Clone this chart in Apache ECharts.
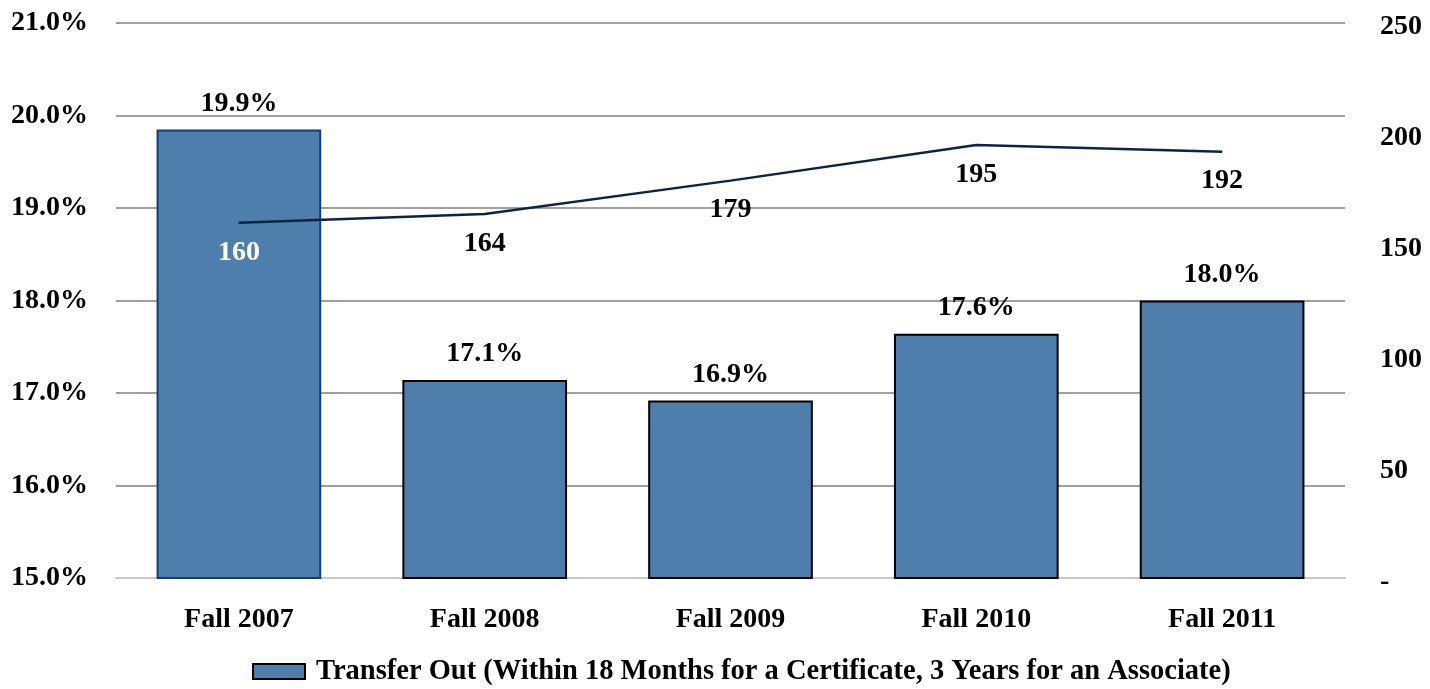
<!DOCTYPE html>
<html>
  <head>
    <meta charset="utf-8" />
    <title>Transfer Out</title>
    <script src="https://cdn.jsdelivr.net/npm/echarts@6/dist/echarts.min.js"></script>
  </head>
  <body style="margin:0">
    <div id="main" style="width: 1430px;height: 689px;"></div>
    <script type="text/javascript">
      var categories = ['Fall 2007', 'Fall 2008', 'Fall 2009', 'Fall 2010', 'Fall 2011']
      var ratePct = [19.85, 17.14, 16.92, 17.64, 18.0]
      var rateLabels = ['19.9%', '17.1%', '16.9%', '17.6%', '18.0%']
      var counts = [160, 164, 179, 195, 192]
      var barBorders = ['#163a78', '#000', '#000', '#000', '#000']
      var countLabelColors = ['#fff', '#000', '#000', '#000', '#000']

      var font = '"Liberation Serif", "Times New Roman", serif'
      var myChart = echarts.init(document.getElementById('main'))

      var option = {
        animation: false,
        textStyle: { fontFamily: font },
        grid: { left: 116, right: 85, top: 23, bottom: 111 },
        legend: {
          data: [{ name: 'Transfer Out (Within 18 Months for a Certificate, 3 Years for an Associate)', icon: 'rect' }],
          bottom: -2,
          left: 247,
          itemWidth: 52,
          itemHeight: 15,
          itemGap: 8,
          textStyle: { fontFamily: font, fontWeight: 'bold', fontSize: 28.5, color: '#000', padding: [0, 0, 0, 6] }
        },
        xAxis: {
          type: 'category',
          data: categories,
          axisTick: { show: false },
          axisLine: { lineStyle: { color: '#c8c8c8', width: 2 } },
          axisLabel: { fontFamily: font, fontWeight: 'bold', fontSize: 28, color: '#000', margin: 28 }
        },
        yAxis: [
          {
            type: 'value',
            min: 15,
            max: 21,
            interval: 1,
            axisLine: { show: false },
            axisTick: { show: false },
            splitLine: { lineStyle: { color: '#a0a0a0', width: 2 } },
            axisLabel: {
              fontFamily: font, fontWeight: 'bold', fontSize: 28, color: '#000', margin: 28,
              formatter: function (v) { return v.toFixed(1) + '%' }
            }
          },
          {
            type: 'value',
            min: 0,
            max: 250,
            interval: 50,
            axisLine: { show: false },
            axisTick: { show: false },
            splitLine: { show: false },
            axisLabel: {
              fontFamily: font, fontWeight: 'bold', fontSize: 28, color: '#000', margin: 35,
              verticalAlign: 'top',
              lineHeight: 8,
              formatter: function (v) { return v === 0 ? '-' : v }
            }
          }
        ],
        series: [
          {
            name: 'Transfer Out (Within 18 Months for a Certificate, 3 Years for an Associate)',
            type: 'bar',
            barWidth: '67%',
            itemStyle: { color: '#4e7eab', borderColor: '#000', borderWidth: 2 },
            data: ratePct.map(function (v, i) {
              return { value: v, itemStyle: { borderColor: barBorders[i] } }
            }),
            label: {
              show: true,
              position: 'top',
              distance: 12,
              fontFamily: font, fontWeight: 'bold', fontSize: 28, color: '#000',
              formatter: function (p) { return rateLabels[p.dataIndex] }
            },
            z: 2
          },
          {
            name: 'Count',
            type: 'line',
            yAxisIndex: 1,
            symbol: 'circle',
            symbolSize: 1,
            showSymbol: true,
            itemStyle: { color: '#0b2346' },
            lineStyle: { color: '#0b2346', width: 2.5 },
            data: counts.map(function (v, i) {
              return { value: v, label: { color: countLabelColors[i] } }
            }),
            label: {
              show: true,
              position: 'bottom',
              distance: 15,
              fontFamily: font, fontWeight: 'bold', fontSize: 28
            },
            z: 3
          }
        ]
      }
      myChart.setOption(option)
    </script>
  </body>
</html>
